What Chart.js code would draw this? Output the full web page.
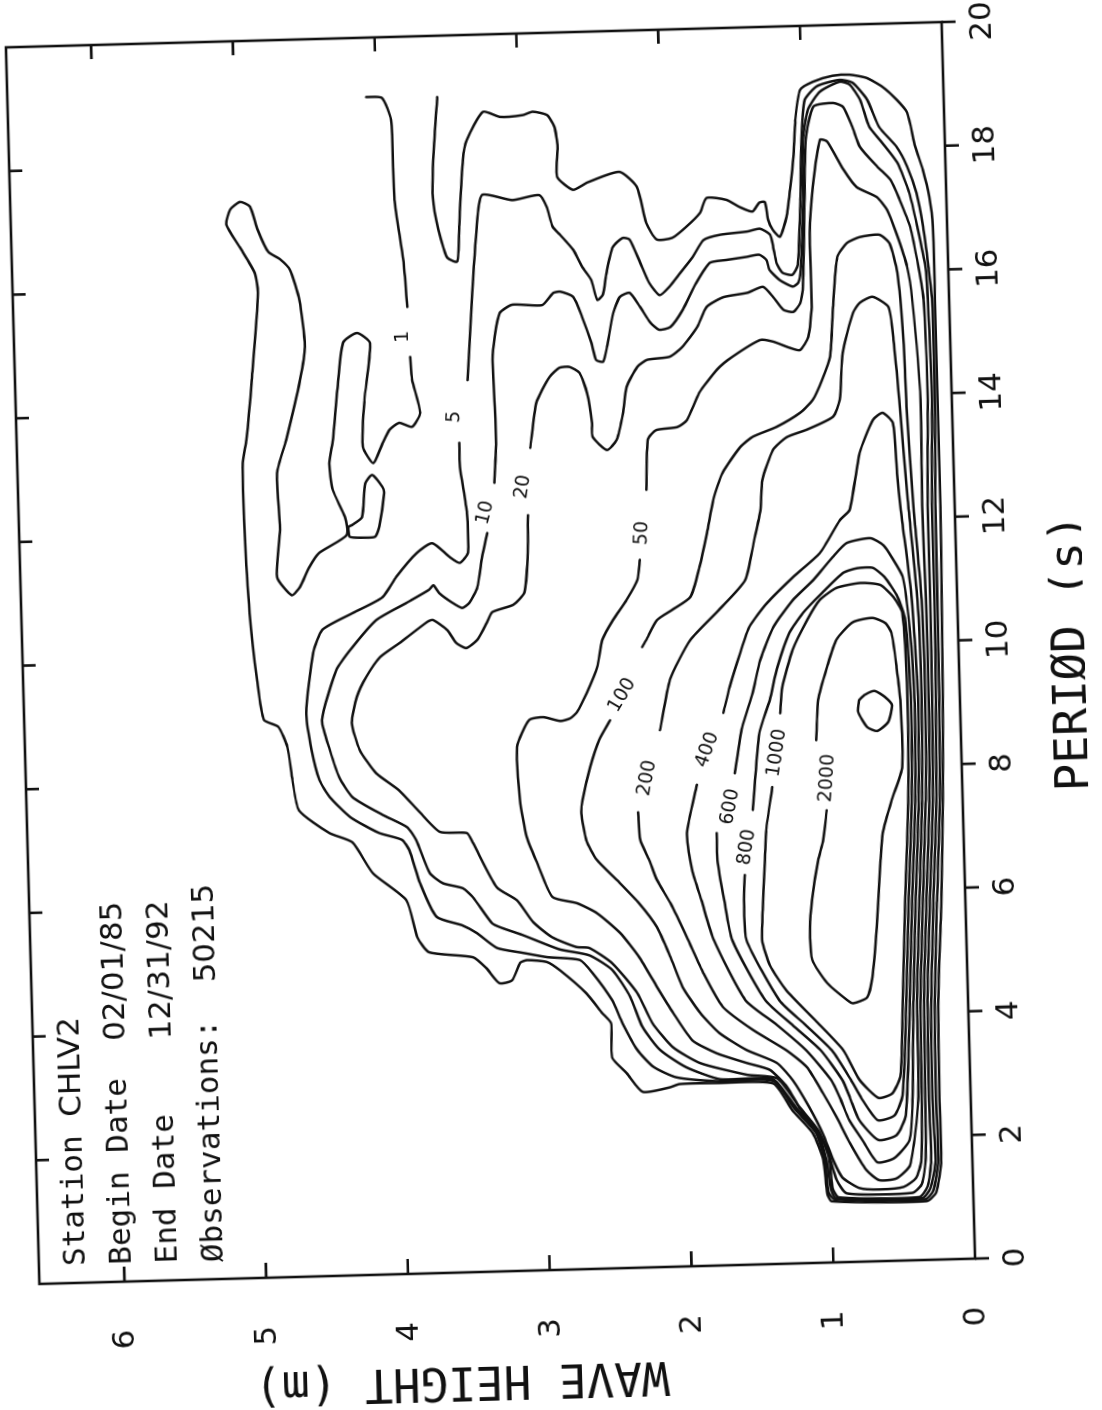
<!DOCTYPE html>
<html>
<head>
<meta charset="utf-8">
<title>Station CHLV2 - wave height vs period</title>
<script src="https://cdn.jsdelivr.net/npm/chart.js@4.4.1/dist/chart.umd.min.js"></script>
<style>
  html, body { margin: 0; padding: 0; background: #fff; }
  body { width: 1102px; height: 1410px; overflow: hidden; position: relative; }
  /* the printed sheet sits a quarter turn (plus a little skew) on the page */
  #sheet { position: absolute; left: -257.75px; top: 145px; width: 1410px; height: 1102px;
           transform-origin: 748.5px 508px; transform: rotate(-91.55deg); }
</style>
</head>
<body>
<div id="sheet"><canvas id="waveChart" width="1410" height="1102"></canvas></div>
<script>
// axis ticks
const periodTicks = [0, 2, 4, 6, 8, 10, 12, 14, 16, 18, 20];
const heightTicks = [0, 1, 2, 3, 4, 5, 6];

// station box: label, value, value column (characters)
const stationLabels = ['Station', 'Begin Date', 'End Date', 'Øbservations:'];
const stationValues = ['CHLV2', '02/01/85', '12/31/92', '50215'];
const stationColumns = [8, 12, 12, 15];
const periodTitle = 'PERIØD (s)';
const heightTitle = 'WAVE HEIGHT (m)';

// contour lines, [period s, height m], split where a label sits
const level1 = [
  [[19.04,4.07],[19.02,3.96],[18.66,3.90],[17.37,3.89],[16.39,3.84],[15.63,3.82]],
  [[14.82,3.81],[14.45,3.80],[13.91,3.75],[13.69,3.81],[13.76,3.90],[13.65,3.97],[13.44,4.02],[13.12,4.09],[13.39,4.16],[14.15,4.14],[15.06,4.09],[15.23,4.18],[15.08,4.28],[14.32,4.33],[13.51,4.37],[13.14,4.40],[12.70,4.38],[12.26,4.30],[11.97,4.29],[11.69,4.49],[11.47,4.56],[11.15,4.63],[11.02,4.69],[11.32,4.79],[12.08,4.76],[13.00,4.77],[13.53,4.70],[14.50,4.59],[15.03,4.55],[15.79,4.58],[16.28,4.64],[16.46,4.71],[16.58,4.79],[16.94,4.86],[17.32,4.91],[17.40,4.98],[17.28,5.05],[17.04,5.08],[16.67,4.99],[16.25,4.89],[15.92,4.87],[14.52,4.93],[13.55,4.98],[13.18,5.01],[12.10,5.01],[10.75,4.99],[9.66,4.95],[9.02,4.91],[8.90,4.81],[8.57,4.75],[8.03,4.72],[7.54,4.68],[7.16,4.47],[7.00,4.31],[6.49,4.17],[6.04,3.94],[5.44,3.87],[5.19,3.79],[5.09,3.48],[4.91,3.39],[4.66,3.30],[4.70,3.21],[4.98,3.15],[5.02,3.10],[4.98,2.96],[4.84,2.87],[4.46,2.69],[4.13,2.58],[3.96,2.52],[3.41,2.52],[3.15,2.42],[2.84,2.31],[2.90,2.12],[2.95,2.05],[2.95,1.77],[2.92,1.39],[2.48,1.26],[2.10,1.12],[1.66,1.05],[1.12,1.03],[0.99,1.00],[0.95,0.33],[1.09,0.26],[1.61,0.22],[2.60,0.22],[4.19,0.21],[5.80,0.17],[7.43,0.14],[9.10,0.12],[10.66,0.11],[12.20,0.10],[13.90,0.10],[15.51,0.10],[16.69,0.10],[17.18,0.12],[17.62,0.16],[18.00,0.21],[18.55,0.26],[18.76,0.33],[18.98,0.43],[19.13,0.54],[19.19,0.66],[19.18,0.78],[19.09,0.92],[18.97,1.01],[18.48,1.05],[17.89,1.07],[17.36,1.10],[16.92,1.13],[16.60,1.18],[16.72,1.23],[16.88,1.26],[17.17,1.28],[17.16,1.32],[17.02,1.37],[17.10,1.46],[17.22,1.55],[17.26,1.69],[17.02,1.74],[16.80,1.84],[16.63,1.94],[16.61,2.05],[16.88,2.12],[17.47,2.18],[17.72,2.30],[17.56,2.53],[17.45,2.63],[17.67,2.74],[18.15,2.73],[18.48,2.75],[18.67,2.80],[18.73,2.90],[18.68,2.97],[18.66,3.13],[18.75,3.25],[18.30,3.37],[17.98,3.40],[16.90,3.44],[16.34,3.46],[16.41,3.53],[16.70,3.57],[17.02,3.60],[17.46,3.62],[18.27,3.60],[19.01,3.57]]
];
const level5 = [
  [[14.42,3.41],[15.83,3.36],[17.01,3.31],[17.41,3.27],[17.31,3.06],[17.38,2.87],[17.19,2.82],[16.86,2.78],[16.73,2.73],[16.48,2.64],[16.20,2.58],[15.99,2.52],[15.66,2.48],[15.74,2.44],[16.09,2.41],[16.51,2.36],[16.65,2.29],[16.62,2.24],[16.24,2.17],[15.91,2.11],[15.71,2.04],[15.84,1.97],[16.06,1.89],[16.31,1.80],[16.58,1.72],[16.66,1.60],[16.70,1.41],[16.74,1.32],[16.64,1.25],[16.44,1.23],[16.18,1.21],[16.02,1.17],[15.98,1.10],[16.14,1.06],[17.19,1.03],[18.16,1.01],[18.80,0.98],[19.02,0.89],[19.11,0.73],[19.06,0.64],[18.78,0.54],[18.33,0.46],[18.00,0.34],[17.68,0.27],[17.25,0.21],[16.70,0.17],[16.05,0.14],[15.51,0.12],[13.90,0.12],[12.20,0.135],[10.66,0.14],[9.10,0.145],[7.43,0.16],[5.80,0.20],[4.19,0.235],[2.60,0.245],[1.61,0.24],[1.12,0.28],[0.98,0.34],[1.02,0.98],[1.14,1.02],[1.66,1.04],[2.11,1.10],[2.49,1.24],[2.96,1.39],[2.98,1.77],[3.06,2.07],[3.24,2.23],[3.52,2.34],[3.96,2.44],[4.34,2.51],[4.78,2.64],[5.00,2.73],[5.06,2.96],[5.14,3.13],[5.23,3.31],[5.48,3.45],[5.61,3.55],[5.76,3.73],[6.31,3.84],[6.85,3.91],[7.02,3.96],[7.14,4.12],[7.41,4.32],[7.74,4.46],[8.02,4.53],[8.51,4.58],[9.11,4.61],[10.08,4.55],[10.45,4.48],[10.71,4.26],[10.95,4.05],[11.27,3.95],[11.65,3.80],[11.80,3.69],[11.57,3.57],[11.47,3.50],[11.63,3.44],[12.27,3.44],[13.02,3.48],[13.41,3.48]]
];
const level10 = [
  [[12.75,3.24],[13.44,3.22],[14.74,3.23],[15.11,3.21],[15.49,3.17],[15.62,3.08],[15.60,2.87],[15.79,2.79],[15.81,2.74],[15.72,2.65],[15.39,2.59],[14.97,2.53],[14.69,2.50],[14.66,2.45],[14.90,2.42],[15.44,2.37],[15.70,2.32],[15.76,2.25],[15.53,2.18],[15.27,2.11],[15.15,2.05],[15.19,1.97],[15.46,1.88],[15.89,1.78],[16.21,1.68],[16.25,1.56],[16.29,1.42],[16.32,1.33],[16.23,1.28],[16.07,1.26],[15.90,1.19],[15.79,1.10],[15.85,1.06],[16.06,1.04],[17.19,1.01],[18.16,1.00],[18.64,0.96],[18.93,0.87],[19.08,0.73],[19.03,0.66],[18.78,0.59],[18.34,0.53],[18.07,0.44],[17.75,0.34],[17.25,0.26],[16.70,0.21],[16.05,0.16],[15.52,0.15],[13.90,0.14],[12.20,0.16],[10.66,0.16],[9.10,0.17],[7.43,0.185],[5.80,0.225],[4.20,0.26],[2.60,0.27],[1.61,0.26],[1.16,0.30],[1.00,0.36],[1.04,0.97],[1.17,1.00],[1.67,1.03],[2.13,1.09],[2.51,1.23],[2.99,1.39],[3.01,1.76],[3.22,2.00],[3.51,2.18],[3.89,2.30],[4.38,2.38],[4.82,2.50],[5.07,2.66],[5.18,2.87],[5.43,3.13],[5.55,3.27],[5.63,3.34],[6.06,3.47],[6.21,3.54],[6.30,3.68],[6.47,3.77],[7.01,3.86],[7.22,3.92],[7.43,4.09],[7.73,4.30],[8.06,4.39],[8.50,4.45],[8.99,4.50],[9.79,4.39],[10.16,4.27],[10.58,4.10],[10.85,3.88],[11.05,3.72],[11.12,3.69],[10.99,3.65],[10.83,3.56],[10.74,3.49],[10.82,3.44],[11.07,3.38],[11.56,3.34],[11.94,3.30]]
];
const level20 = [
  [[13.30,2.98],[14.02,2.93],[14.44,2.83],[14.58,2.76],[14.59,2.69],[14.49,2.62],[14.16,2.57],[13.67,2.54],[13.45,2.54],[13.23,2.44],[13.39,2.37],[13.82,2.32],[14.24,2.29],[14.56,2.21],[14.67,2.14],[14.71,1.98],[14.86,1.89],[15.18,1.78],[15.50,1.71],[15.65,1.59],[15.71,1.42],[15.80,1.31],[15.63,1.24],[15.42,1.17],[15.38,1.10],[15.52,1.05],[15.73,1.03],[17.19,1.00],[18.16,0.98],[18.69,0.92],[18.74,0.78],[18.67,0.71],[18.35,0.65],[18.02,0.60],[17.69,0.48],[17.47,0.39],[17.15,0.33],[16.70,0.26],[16.05,0.21],[15.52,0.18],[13.90,0.17],[12.20,0.19],[10.66,0.19],[9.10,0.195],[7.43,0.21],[5.80,0.25],[4.20,0.285],[2.60,0.295],[1.61,0.29],[1.19,0.32],[1.02,0.38],[1.05,0.95],[1.20,0.99],[1.69,1.01],[2.14,1.08],[2.53,1.21],[3.00,1.36],[3.07,1.57],[3.28,1.90],[3.55,2.09],[3.95,2.23],[4.44,2.33],[4.93,2.50],[5.19,2.66],[5.21,2.75],[5.38,2.92],[5.63,3.05],[5.99,3.16],[6.21,3.30],[6.94,3.46],[7.10,3.50],[7.13,3.69],[7.46,3.83],[7.82,3.97],[8.11,4.13],[8.49,4.24],[8.93,4.29],[9.35,4.25],[9.67,4.18],[9.98,4.08],[10.20,3.94],[10.53,3.74],[10.56,3.70],[10.39,3.60],[10.18,3.54],[10.09,3.47],[10.22,3.39],[10.49,3.32],[10.66,3.28],[10.77,3.13],[10.96,3.05],[11.54,3.02],[12.21,3.01]]
];
const level50 = [
  [[12.57,2.17],[13.38,2.15],[13.53,2.09],[13.57,1.94],[13.68,1.87],[14.11,1.78],[14.48,1.65],[14.68,1.54],[14.94,1.34],[14.91,1.25],[14.80,1.13],[14.76,1.06],[14.97,1.00],[15.45,0.97],[16.65,0.97],[17.39,0.94],[18.15,0.88],[18.12,0.83],[17.66,0.72],[17.37,0.63],[17.20,0.49],[16.99,0.42],[16.61,0.36],[16.06,0.29],[15.52,0.26],[13.90,0.22],[12.20,0.23],[10.67,0.22],[9.10,0.22],[7.43,0.235],[5.80,0.275],[4.20,0.31],[2.60,0.32],[1.61,0.33],[1.23,0.36],[1.09,0.43],[1.11,0.89],[1.33,0.96],[1.82,1.02],[2.15,1.09],[2.52,1.21],[2.85,1.29],[3.14,1.41],[3.26,1.57],[3.43,1.78],[3.65,1.95],[4.10,2.08],[4.53,2.19],[5.02,2.31],[5.42,2.44],[5.75,2.60],[5.92,2.74],[6.03,2.91],[6.58,3.01],[7.01,3.08],[7.61,3.12],[8.47,3.13],[8.90,3.04],[8.94,2.94],[8.87,2.82],[8.91,2.75],[9.01,2.70],[9.31,2.63],[9.73,2.55],[10.16,2.51],[10.48,2.43],[10.80,2.33],[11.12,2.25],[11.44,2.23]]
];
const level100 = [
  [[8.86,2.47],[8.55,2.55],[8.11,2.62],[7.58,2.68],[7.37,2.69],[6.93,2.66],[6.61,2.59],[6.27,2.45],[5.89,2.30],[5.50,2.18],[5.01,2.09],[4.52,2.01],[4.09,1.89],[3.76,1.76],[3.47,1.57],[3.25,1.36],[2.96,1.25],[2.52,1.14],[2.09,1.05],[1.65,0.98],[1.37,0.92],[1.19,0.80],[1.16,0.66],[1.19,0.49],[1.33,0.40],[1.61,0.36],[2.60,0.345],[4.20,0.335],[5.80,0.30],[7.44,0.26],[9.10,0.245],[10.67,0.25],[12.18,0.29],[13.80,0.32],[14.88,0.33],[15.97,0.36],[16.45,0.41],[16.59,0.48],[16.56,0.62],[16.47,0.71],[16.25,0.78],[15.44,0.82],[14.64,0.85],[14.27,0.91],[13.95,0.98],[13.75,1.07],[13.53,1.24],[13.38,1.41],[13.22,1.50],[12.81,1.63],[12.38,1.70],[11.85,1.75],[11.30,1.81],[10.82,1.88],[10.62,2.01],[10.46,2.12],[10.14,2.20],[10.03,2.23]]
];
const level200 = [
  [[7.36,2.29],[6.91,2.28],[6.58,2.22],[6.26,2.17],[5.88,2.08],[5.32,1.97],[4.73,1.86],[4.18,1.73],[3.79,1.52],[3.45,1.29],[3.17,1.15],[2.74,1.04],[2.35,0.95],[1.92,0.86],[1.48,0.75],[1.31,0.66],[1.33,0.54],[1.54,0.44],[2.59,0.37],[4.20,0.36],[5.80,0.325],[7.44,0.285],[9.10,0.27],[10.67,0.28],[12.29,0.33],[13.91,0.37],[14.89,0.40],[15.42,0.43],[15.59,0.54],[15.50,0.63],[15.34,0.68],[14.70,0.76],[13.94,0.79],[13.67,0.84],[13.47,1.03],[13.36,1.17],[13.16,1.27],[12.68,1.35],[12.19,1.37],[11.71,1.42],[11.07,1.49],[10.60,1.68],[10.12,1.89],[9.49,2.04],[8.68,2.12]]
];
const level400 = [
  [[7.78,1.87],[7.00,1.95],[6.40,1.92],[5.91,1.86],[5.26,1.78],[4.28,1.57],[3.86,1.35],[3.44,1.15],[2.95,0.98],[2.65,0.92],[2.29,0.86],[1.96,0.77],[1.60,0.67],[1.66,0.55],[1.94,0.44],[2.59,0.41],[4.21,0.385],[5.80,0.35],[7.44,0.31],[9.10,0.295],[10.70,0.32],[12.13,0.38],[12.73,0.40],[13.54,0.42],[13.71,0.49],[13.60,0.56],[13.07,0.66],[12.16,0.74],[12.00,0.81],[11.47,0.96],[11.10,1.15],[10.69,1.34],[10.31,1.47],[9.89,1.54],[9.35,1.62],[8.93,1.67]]
];
const level600 = [
  [[6.99,1.74],[6.55,1.74],[5.90,1.70],[5.25,1.65],[4.27,1.43],[3.85,1.24],[3.44,1.05],[2.94,0.90],[2.65,0.85],[2.29,0.79],[1.96,0.66],[2.03,0.53],[2.35,0.46],[4.20,0.41],[5.80,0.375],[7.40,0.335],[9.10,0.32],[10.20,0.34],[11.05,0.38],[11.36,0.45],[11.57,0.51],[11.69,0.60],[11.62,0.77],[11.40,0.87],[11.04,1.01],[10.72,1.16],[10.30,1.30],[9.77,1.40],[9.24,1.46],[8.69,1.54],[7.95,1.60]]
];
const level800 = [
  [[6.30,1.55],[5.90,1.56],[5.25,1.55],[4.26,1.33],[3.85,1.15],[3.43,0.97],[2.94,0.84],[2.64,0.77],[2.28,0.66],[2.35,0.54],[2.67,0.48],[4.20,0.435],[5.80,0.40],[7.40,0.36],[9.10,0.345],[10.35,0.37],[10.73,0.42],[11.06,0.51],[11.21,0.59],[11.21,0.70],[11.14,0.80],[10.83,0.95],[10.51,1.09],[10.19,1.19],[9.65,1.28],[9.12,1.34],[8.59,1.42],[7.35,1.48]]
];
const level1000 = [
  [[7.71,1.34],[7.02,1.39],[6.37,1.41],[5.73,1.43],[5.24,1.44],[4.83,1.39],[4.42,1.28],[3.92,1.08],[3.43,0.89],[2.94,0.78],[2.64,0.65],[2.71,0.55],[3.00,0.49],[4.20,0.46],[5.80,0.425],[7.40,0.385],[9.10,0.37],[10.47,0.39],[10.73,0.45],[10.93,0.54],[10.97,0.68],[10.90,0.85],[10.71,0.97],[10.40,1.06],[9.92,1.17],[9.32,1.25],[8.90,1.27]]
];
const level2000 = [
  [[7.31,0.96],[6.83,0.99],[6.51,1.03],[5.87,1.08],[5.43,1.10],[4.90,1.09],[4.52,0.99],[4.23,0.85],[4.18,0.81],[4.27,0.71],[4.59,0.67],[5.40,0.63],[6.48,0.59],[6.92,0.57],[7.45,0.50],[7.97,0.42],[9.06,0.42],[9.59,0.44],[10.15,0.47],[10.31,0.51],[10.40,0.60],[10.34,0.74],[10.06,0.86],[9.63,0.93],[9.10,1.00],[8.45,1.02]]
];
const peakRing = [
  [[9.08,0.71],[9.16,0.67],[9.22,0.60],[9.12,0.53],[8.98,0.48],[8.71,0.51],[8.57,0.59],[8.64,0.66],[8.89,0.72],[9.08,0.71]]
];
const smallIsland = [
  [[12.10,4.28],[11.94,4.27],[11.92,4.18],[11.93,4.09],[12.09,4.06],[12.63,4.02],[12.73,4.03],[12.93,4.10],[12.80,4.15],[12.25,4.18],[12.13,4.25],[12.10,4.28]]
];

// contour labels: text, period, height, tilt (deg)
const contourLabels = [
  ['1', 15.15, 3.86, 0],
  ['5', 13.83, 3.51, 5],
  ['10', 12.27, 3.31, 15],
  ['20', 12.67, 3.04, 10],
  ['50', 11.87, 2.21, 5],
  ['100', 9.26, 2.38, 32],
  ['200', 7.91, 2.22, 12],
  ['400', 8.34, 1.79, 21],
  ['600', 7.41, 1.64, 12],
  ['800', 6.75, 1.53, 10],
  ['1000', 8.26, 1.30, 10],
  ['2000', 7.83, 0.95, 5]
];

const ink = '#111111';
const mono = '"DejaVu Sans Mono", "Liberation Mono", monospace';
const sans = '"DejaVu Sans", "Liberation Sans", sans-serif';   // plain zeros for numbers

// one line dataset per contour piece
const allContours = [level1, level5, level10, level20, level50, level100, level200,
                     level400, level600, level800, level1000, level2000, peakRing, smallIsland];
const datasets = [];
allContours.forEach(pieces => {
    pieces.forEach(piece => {
        datasets.push({
            data: piece.map(pt => ({ x: pt[0], y: pt[1] })),
            showLine: true,
            borderColor: ink,
            borderWidth: 2.5,
            pointRadius: 0,
            tension: 0.2,
            borderJoinStyle: 'round',
            borderCapStyle: 'round',
            fill: false
        });
    });
});

// frame, ticks, axis text, station box and contour labels
const sheetPlugin = {
    id: 'sheet',
    afterDraw(chart) {
        const ctx = chart.ctx;
        const a = chart.chartArea;
        const xs = chart.scales.x;
        const ys = chart.scales.y;
        ctx.save();
        ctx.strokeStyle = ink;
        ctx.fillStyle = ink;
        ctx.lineWidth = 2.6;
        ctx.strokeRect(a.left, a.top, a.right - a.left, a.bottom - a.top);

        ctx.beginPath();
        periodTicks.forEach(v => {
            const px = xs.getPixelForValue(v);
            ctx.moveTo(px, a.bottom);
            ctx.lineTo(px, a.bottom + 14);
            if (v > periodTicks[0] && v < periodTicks[periodTicks.length - 1]) {
                ctx.moveTo(px, a.top);
                ctx.lineTo(px, a.top + 13);
            }
        });
        heightTicks.forEach(v => {
            if (v === 0) return;
            const py = ys.getPixelForValue(v);
            ctx.moveTo(a.left, py);
            ctx.lineTo(a.left + 15, py);
            ctx.moveTo(a.right, py);
            ctx.lineTo(a.right - 14, py);
        });
        ctx.stroke();

        // tick labels
        ctx.textAlign = 'center';
        ctx.textBaseline = 'middle';
        ctx.font = '31px ' + sans;
        periodTicks.forEach(v => {
            ctx.fillText(String(v), xs.getPixelForValue(v), a.bottom + 41);
        });
        heightTicks.forEach(v => {
            ctx.fillText(String(v), a.left - 58, ys.getPixelForValue(v));
        });

        // axis titles
        ctx.font = '46px ' + mono;
        ctx.fillText(periodTitle, xs.getPixelForValue(9.75), a.bottom + 114);
        ctx.save();
        ctx.translate(a.left - 107, ys.getPixelForValue(3.64));
        ctx.rotate(-Math.PI / 2);
        ctx.fillText(heightTitle, 0, 0);
        ctx.restore();

        // station box
        ctx.textAlign = 'left';
        const charW = 18.66;
        stationLabels.forEach((label, i) => {
            const ty = a.top + 38 + 46 * i;
            ctx.font = '31px ' + mono;
            ctx.fillText(label, a.left + 17, ty);
            ctx.font = '31px ' + sans;
            ctx.fillText(stationValues[i], a.left + 17 + charW * stationColumns[i], ty);
        });

        // contour labels
        ctx.textAlign = 'center';
        ctx.font = '19px ' + sans;
        contourLabels.forEach(lab => {
            ctx.save();
            ctx.translate(xs.getPixelForValue(lab[1]), ys.getPixelForValue(lab[2]));
            ctx.rotate(lab[3] * Math.PI / 180);
            ctx.fillText(lab[0], 0, 0);
            ctx.restore();
        });
        ctx.restore();
    }
};

const config = {
    type: 'scatter',
    data: { datasets: datasets },
    options: {
        responsive: false,
        animation: false,
        events: [],
        layout: { padding: { top: 40, right: 43, bottom: 0, left: 0 } },
        plugins: { legend: { display: false }, tooltip: { enabled: false } },
        scales: {
            x: {
                type: 'linear', min: 0, max: 20,
                ticks: { display: false, stepSize: 2 },
                grid: { display: false },
                border: { display: false },
                afterFit: s => { s.height = 126; }
            },
            y: {
                type: 'linear', min: 0, max: 6.6,
                ticks: { display: false, stepSize: 1 },
                grid: { display: false },
                border: { display: false },
                afterFit: s => { s.width = 130; }
            }
        }
    },
    plugins: [sheetPlugin]
};

const waveChart = new Chart(document.getElementById('waveChart'), config);
</script>
</body>
</html>
